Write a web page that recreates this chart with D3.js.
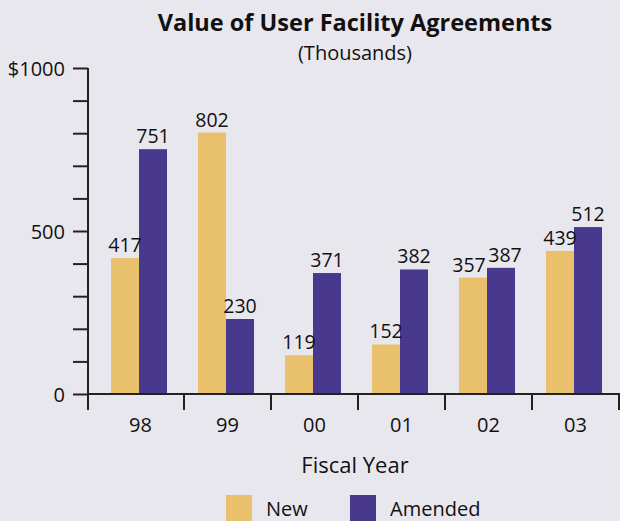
<!DOCTYPE html>
<html><head><meta charset="utf-8">
<script src="https://cdn.jsdelivr.net/npm/d3@7"></script>
<style>
html,body{margin:0;padding:0;background:#e9e7ee;}
svg{display:block;}
text{font-family:"Open Sans","Noto Sans",sans-serif;fill:#111;}
</style></head>
<body>
<svg id="chart" width="620" height="521"></svg>
<script>
const years = ["98","99","00","01","02","03"];
const series = ["New","Amended"];
const newValues = [417, 802, 119, 152, 357, 439];
const amendedValues = [751, 230, 371, 382, 387, 512];
const yTickValues = [0,100,200,300,400,500,600,700,800,900,1000];
const yTickLabels = {0:"0",500:"500",1000:"$1000"};
const colors = {New:"#e9c16d", Amended:"#48388e"};

const svg = d3.select("#chart");
svg.append("rect").attr("width",620).attr("height",521).attr("fill","#e9e7ee");

const axisX = 88, y0 = 394, yTop = 68;
const x = d3.scaleBand().domain(years).range([97, 619]).padding(0);
const xi = d3.scaleBand().domain(series).range([14, 70]).padding(0);
const y = d3.scaleLinear().domain([0,1000]).range([y0, yTop]);

const data = years.map((yr,i)=>({year:yr, New:newValues[i], Amended:amendedValues[i]}));

// Title
svg.append("text").attr("x",355).attr("y",31).attr("text-anchor","middle")
  .style("font-weight","bold").style("font-size","23.5px").text("Value of User Facility Agreements");
svg.append("text").attr("x",355).attr("y",60).attr("text-anchor","middle")
  .style("font-size","20px").text("(Thousands)");

// Bars
const valFont = 19.5;
const g = svg.append("g");
const groups = g.selectAll("g.yr").data(data).join("g").attr("class","yr")
  .attr("transform", d=>`translate(${x(d.year)},0)`);
groups.selectAll("rect").data(d=>series.map(s=>({s, v:d[s]}))).join("rect")
  .attr("x", d=>xi(d.s)).attr("width", xi.bandwidth())
  .attr("y", d=>y(d.v)).attr("height", d=>y0 - y(d.v))
  .attr("fill", d=>colors[d.s]);
// labels: nudge apart when the pair sits at nearly the same height
groups.each(function(d){
  const close = Math.abs(y(d.New) - y(d.Amended)) < valFont;
  const shift = close ? 4 : 0;
  d3.select(this).selectAll("text.val").data(series.map(s=>({s, v:d[s]}))).join("text").attr("class","val")
    .attr("x", e=>xi(e.s)+xi.bandwidth()/2 + (e.s==="New" ? -shift : shift))
    .attr("y", e=>y(e.v)-6)
    .attr("text-anchor","middle").style("font-size",valFont+"px").text(e=>e.v);
});

// Y axis
const yAxis = d3.axisLeft(y).tickValues(yTickValues).tickSize(15)
  .tickFormat(d=>yTickLabels[d] || "");
const ya = svg.append("g").attr("transform",`translate(${axisX},0)`).call(yAxis);
ya.select(".domain").remove();
ya.append("line").attr("x1",0).attr("x2",0).attr("y1",yTop).attr("y2",y0+16)
  .attr("stroke","#222").attr("stroke-width",2);
ya.selectAll(".tick line").attr("stroke","#222").attr("stroke-width",2);
ya.selectAll(".tick text").attr("x",-23).attr("dy","0.35em")
  .style("font-size","20px").style("font-family",'"Open Sans","Noto Sans",sans-serif').attr("fill","#111");

// X axis
const xAxis = d3.axisBottom(x).tickSize(0).tickPadding(0);
const xa = svg.append("g").attr("transform",`translate(0,${y0})`).call(xAxis);
xa.select(".domain").remove();
xa.append("line").attr("x1",axisX).attr("x2",620).attr("y1",0).attr("y2",0)
  .attr("stroke","#222").attr("stroke-width",2);
xa.selectAll(".tick text").attr("y",38).attr("dy",0)
  .style("font-size","20px").style("font-family",'"Open Sans","Noto Sans",sans-serif').attr("fill","#111");
xa.selectAll("line.bound").data(years.slice(0)).join("line").attr("class","bound")
  .attr("x1", d=>x(d)+x.bandwidth()).attr("x2", d=>x(d)+x.bandwidth())
  .attr("y1",0).attr("y2",16).attr("stroke","#222").attr("stroke-width",2);

svg.append("text").attr("x",355).attr("y",473).attr("text-anchor","middle")
  .style("font-size","22px").text("Fiscal Year");

// Legend
const legendX = {New:226, Amended:350};
const lg = svg.selectAll("g.leg").data(series).join("g").attr("class","leg")
  .attr("transform", d=>`translate(${legendX[d]},495)`);
lg.append("rect").attr("width",26).attr("height",30).attr("fill",d=>colors[d]);
lg.append("text").attr("x",40).attr("y",21).style("font-size","20px").text(d=>d);
</script>
</body></html>
